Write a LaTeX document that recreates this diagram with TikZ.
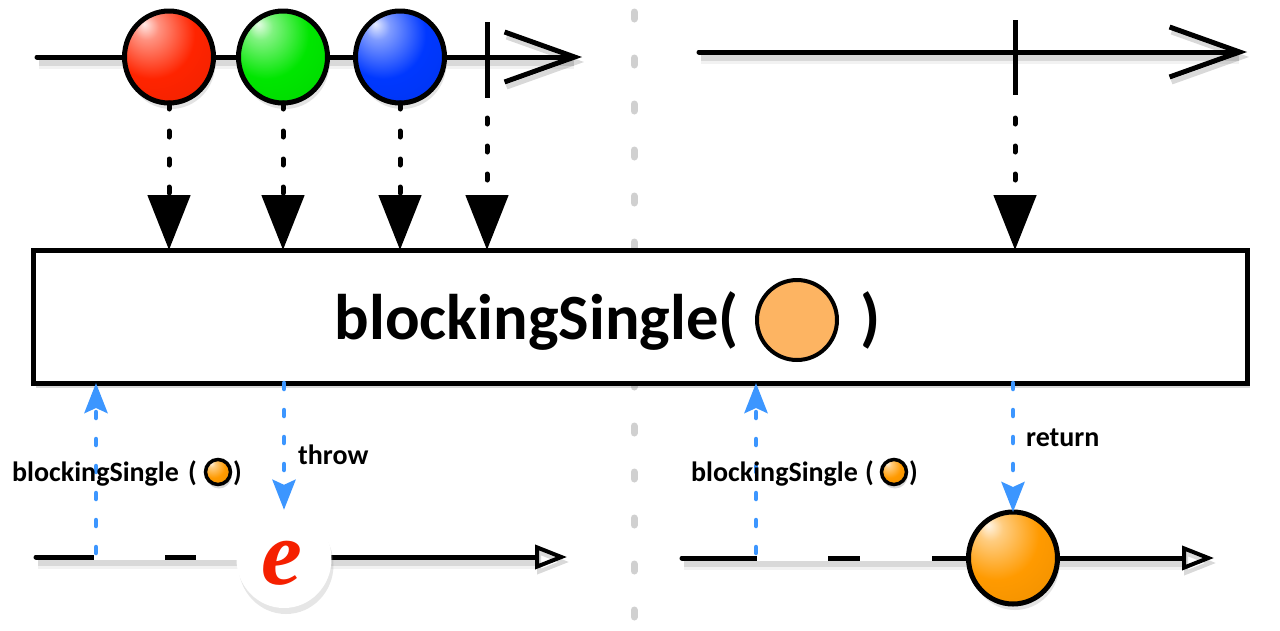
\documentclass[tikz,border=0pt]{standalone}
\usepackage{fontspec}
\setmainfont{Carlito}
\newfontfamily\errfont{Liberation Serif}
\usetikzlibrary{arrows.meta,shapes.geometric,shadows}
\definecolor{flowblue}{HTML}{3C96FF}
\definecolor{divgray}{HTML}{D0D0D0}
\definecolor{boxorange}{HTML}{FDB462}
\definecolor{errred}{HTML}{F52000}
\definecolor{marbleorange}{HTML}{FF9A00}
\definecolor{mred}{HTML}{FF2400}
\definecolor{mgreen}{HTML}{00E600}
\definecolor{mblue}{HTML}{0038FF}
\colorlet{mcol}{red}
\pgfdeclareradialshading[mcol]{marbleshade}{\pgfpoint{-14bp}{18bp}}{%
  color(0bp)=(mcol!10!white); color(7bp)=(mcol!50!white); color(24bp)=(mcol);
  color(48bp)=(mcol!92!black); color(74bp)=(mcol!55!black)}
\begin{document}
\begin{tikzpicture}[x=1pt,y=-1pt,
  lineshadow/.style={
    preaction={draw=black, opacity=0.05, line width=13pt, transform canvas={shift={(2pt,-5pt)}}},
    preaction={draw=black, opacity=0.10, line width=8pt, transform canvas={shift={(2pt,-5pt)}}}},
  timeline/.style={line width=5pt, line cap=round, lineshadow},
  chevron/.style={-{Straight Barb[length=70pt,width=50pt,line width=5pt]}},
  endtick/.style={line width=5pt},
  marblecolor/.code={\colorlet{mcol}{#1}},
  marble/.style={ellipse, draw, line width=5pt, minimum width=89pt, minimum height=92pt, inner sep=0pt, outer sep=0pt,
    marblecolor=#1, shading=marbleshade,
    drop shadow={shadow xshift=2pt, shadow yshift=-6pt, opacity=0.22}},
  feed/.style={line width=5pt, line cap=round, dash pattern=on 6pt off 22pt, -{Triangle[width=42pt,length=55pt]}},
  flow/.style={draw=flowblue, line width=4.5pt, line cap=round, dash pattern=on 6pt off 21pt, -{Stealth[length=30pt,width=23pt,inset=5pt]}},
  opbox/.style={draw, line width=5pt, fill=white, minimum width=1214pt, minimum height=133pt, inner sep=0pt, outer sep=0pt,
    drop shadow={shadow xshift=3pt, shadow yshift=-5pt, opacity=0.3}},
  optext/.style={font=\bfseries\fontsize{64.5}{64.5}\selectfont, inner sep=0pt},
  lbl/.style={font=\bfseries\fontsize{28}{28}\selectfont, inner sep=0pt},
  smallmarble/.style={circle, draw, line width=3.5pt, minimum size=25pt, inner sep=0pt, marblecolor=marbleorange, shading=marbleshade,
    drop shadow={shadow xshift=1pt, shadow yshift=-4pt, opacity=0.3}},
  gap/.style={draw=white, line width=5.5pt},
  outtip/.style={-{Triangle[open,length=32pt,width=24pt,line width=4pt]}}
]
\useasboundingbox (0,0) rectangle (1280,630);

% divider
\coordinate (dtop) at (634,12);
\coordinate (dbot) at (634,630);
\draw[divgray, line width=7pt, line cap=round, dash pattern=on 7pt off 39pt] (dtop) -- (dbot);

% top-left source timeline
\coordinate (s1a) at (37,57);
\coordinate (s1b) at (582,57);
\draw[timeline, chevron] (s1a) -- (s1b);
\node[marble=mred] (mr) at (169,57) {};
\node[marble=mgreen] (mg) at (283,57) {};
\node[marble=mblue] (mb) at (400,57) {};
\coordinate (t1a) at (487,22);
\coordinate (t1b) at (487,98);
\draw[endtick] (t1a) -- (t1b);

% top-right source timeline
\coordinate (s2a) at (699,52);
\coordinate (s2b) at (1247,52);
\draw[timeline, chevron] (s2a) -- (s2b);
\coordinate (t2a) at (1015,20);
\coordinate (t2b) at (1015,95);
\draw[endtick] (t2a) -- (t2b);

% operator box
\node[opbox] (op) at (640,316.5) {};
\node[optext, anchor=base east] (optxt) at (739,339) {blockingSingle(};
\node[circle, draw, line width=4pt, fill=boxorange, minimum size=80pt, inner sep=0pt] (arg) at (797,320) {};
\node[optext, anchor=base west] (opclose) at (860,339) {)};

% feed arrows
\coordinate (f4) at (487,118);
\coordinate (f5) at (1015,118);
\draw[feed] (mr.south) -- (op.north -| mr.south);
\draw[feed] (mg.south) -- (op.north -| mg.south);
\draw[feed] (mb.south) -- (op.north -| mb.south);
\draw[feed] (f4) -- (op.north -| f4);
\draw[feed] (f5) -- (op.north -| f5);

% bottom-left result timeline
\coordinate (b1a) at (36,557);
\coordinate (b1b) at (567,557);
\draw[timeline, outtip] (b1a) -- (b1b);
\coordinate (g1a) at (94,557);
\coordinate (g1b) at (165,557);
\coordinate (g1c) at (196,557);
\coordinate (g1d) at (240,557);
\draw[gap] (g1a) -- (g1b);
\draw[gap] (g1c) -- (g1d);
\node[ellipse, fill=white, minimum width=95pt, minimum height=98pt, inner sep=0pt,
  drop shadow={shadow xshift=2pt, shadow yshift=-6pt, opacity=0.2}] (err) at (284,559) {};
\node[font=\errfont\bfseries\itshape\fontsize{92}{92}\selectfont, text=errred, inner sep=0pt, anchor=base] (errtxt) at (282,584) {e};

\coordinate (u1) at (96,553);
\draw[flow] (u1) -- (op.south -| u1);
\draw[flow] (op.south -| err.north) -- (err.north);
\node[lbl, anchor=base west] (l1) at (12,481) {blockingSingle};
\node[lbl, anchor=base west] (l1o) at (188,481) {(};
\node[smallmarble] (lm1) at (218,472) {};
\node[lbl, anchor=base west] (l1c) at (233,481) {)};
\node[lbl, anchor=base west] (thr) at (298,464) {throw};

% bottom-right result timeline
\coordinate (b2a) at (682,558);
\coordinate (b2b) at (1214,558);
\draw[timeline, outtip] (b2a) -- (b2b);
\coordinate (g2a) at (757,558);
\coordinate (g2b) at (828,558);
\coordinate (g2c) at (860,558);
\coordinate (g2d) at (932,558);
\draw[gap] (g2a) -- (g2b);
\draw[gap] (g2c) -- (g2d);
\node[marble=marbleorange] (res) at (1013,558) {};

\coordinate (u2) at (756,553);
\draw[flow] (u2) -- (op.south -| u2);
\draw[flow] (op.south -| res.north) -- (res.north);
\node[lbl, anchor=base west] (l2) at (691,481) {blockingSingle};
\node[lbl, anchor=base west] (l2o) at (865,481) {(};
\node[smallmarble] (lm2) at (894,472) {};
\node[lbl, anchor=base west] (l2c) at (909,481) {)};
\node[lbl, anchor=base west] (ret) at (1026,446) {return};
\end{tikzpicture}
\end{document}
